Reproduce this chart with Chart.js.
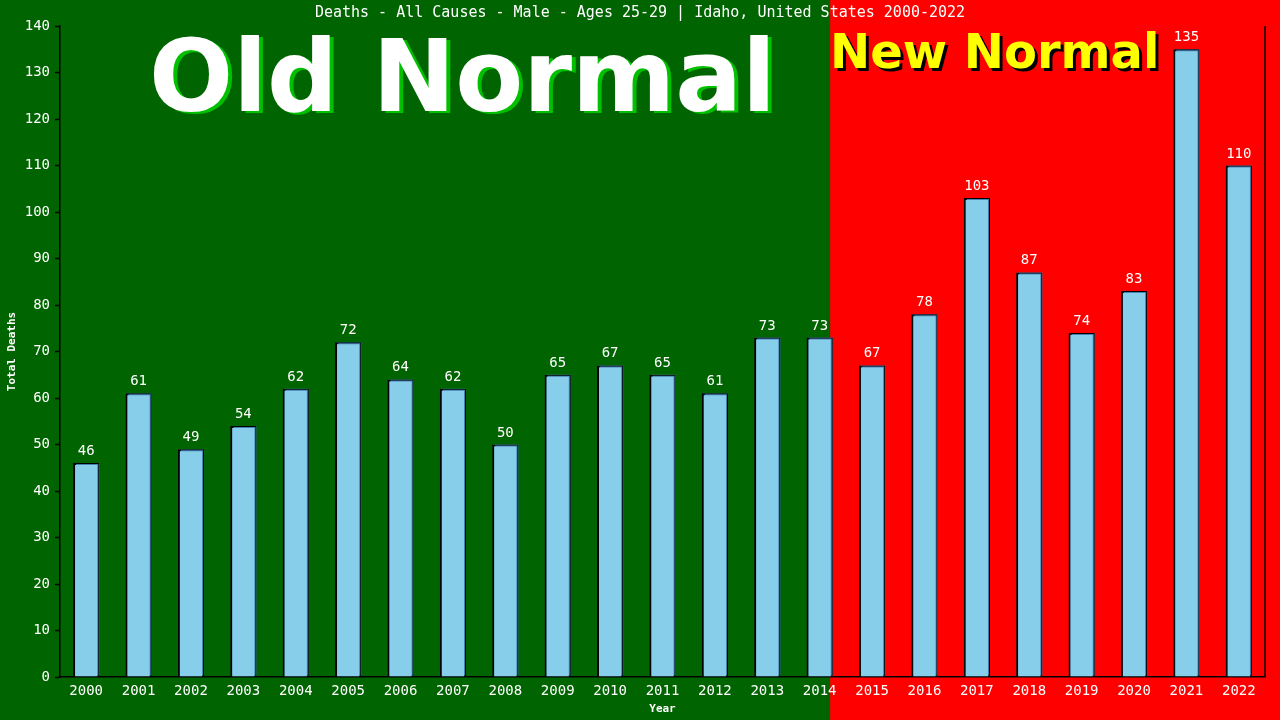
<!DOCTYPE html>
<html lang="en">
<head>
    <meta charset="UTF-8">
    <title>Deaths - All Causes - Male - Ages 25-29 | Idaho</title>
    <script src="https://cdn.jsdelivr.net/npm/chart.js"></script>
    <style>
        html, body { margin: 0; padding: 0; background: #006400; }
        #wrap { width: 1280px; height: 720px; }
    </style>
</head>
<body>
    <div id="wrap">
        <canvas id="myChart"></canvas>
    </div>
    <script>
        const years = ['2000', '2001', '2002', '2003', '2004', '2005', '2006', '2007', '2008', '2009', '2010', '2011',
            '2012', '2013', '2014', '2015', '2016', '2017', '2018', '2019', '2020', '2021', '2022'];
        const deaths = [46, 61, 49, 54, 62, 72, 64, 62, 50, 65, 67, 65, 61, 73, 73, 67, 78, 103, 87, 74, 83, 135, 110];
        const titleText = 'Deaths - All Causes - Male - Ages 25-29 | Idaho, United States 2000-2022';
        const yMin = 0, yMax = 140, yStep = 10;

        const mono = 'DejaVu Sans Mono';
        Chart.defaults.font.family = mono;
        Chart.defaults.color = '#ffffff';

        // green/red background + headline texts
        const backdrop = {
            id: 'backdrop',
            beforeDraw(chart) {
                const { ctx, width, height } = chart;
                const split = chart.scales.x.getPixelForValue(14.2);
                ctx.save();
                ctx.fillStyle = '#006400';
                ctx.fillRect(0, 0, width, height);
                ctx.fillStyle = '#ff0000';
                ctx.fillRect(split, 0, width - split, height);

                ctx.textAlign = 'center';
                ctx.textBaseline = 'middle';
                ctx.font = '15px ' + mono;
                ctx.fillStyle = '#ffffff';
                ctx.fillText(titleText, 640, 13);

                ctx.textAlign = 'left';
                ctx.textBaseline = 'alphabetic';
                ctx.font = 'bold 99px "DejaVu Sans"';
                ctx.fillStyle = '#00c000';
                ctx.fillText('Old Normal', 153, 113);
                ctx.fillStyle = '#ffffff';
                ctx.fillText('Old Normal', 149, 111);

                ctx.font = 'bold 48px "DejaVu Sans"';
                ctx.fillStyle = '#000000';
                ctx.fillText('New Normal', 833, 71);
                ctx.fillStyle = '#ffff00';
                ctx.fillText('New Normal', 830, 68);
                ctx.restore();
            }
        };

        // thin steel-blue edge behind each bar
        const barEdge = {
            id: 'barEdge',
            beforeDatasetDraw(chart) {
                const ctx = chart.ctx;
                ctx.save();
                ctx.shadowColor = '#4682b4';
                ctx.shadowBlur = 0;
                ctx.shadowOffsetX = 1;
                ctx.shadowOffsetY = -1;
            },
            afterDatasetDraw(chart) {
                chart.ctx.restore();
            }
        };

        const valueLabels = {
            id: 'valueLabels',
            afterDatasetsDraw(chart) {
                const { ctx } = chart;
                const meta = chart.getDatasetMeta(0);
                ctx.save();
                ctx.font = '14px ' + mono;
                ctx.fillStyle = '#ffffff';
                ctx.textAlign = 'center';
                ctx.textBaseline = 'alphabetic';
                meta.data.forEach((bar, i) => {
                    ctx.fillText(deaths[i], bar.x, bar.y - 8);
                });
                ctx.restore();
            },
            afterDraw(chart) {
                const { ctx, chartArea } = chart;
                ctx.save();
                ctx.strokeStyle = '#000000';
                ctx.lineWidth = 1.5;
                ctx.beginPath();
                ctx.moveTo(chartArea.right, chartArea.top);
                ctx.lineTo(chartArea.right, chartArea.bottom);
                ctx.stroke();
                ctx.restore();
            }
        };

        new Chart(document.getElementById('myChart'), {
            type: 'bar',
            data: {
                labels: years,
                datasets: [{
                    data: deaths,
                    backgroundColor: '#87ceeb',
                    borderColor: '#000000',
                    borderWidth: 2,
                    categoryPercentage: 1,
                    barPercentage: 0.5
                }]
            },
            options: {
                responsive: true,
                maintainAspectRatio: false,
                animation: false,
                layout: { padding: { top: 26, right: 15, left: 0, bottom: 0 } },
                plugins: {
                    legend: { display: false },
                    title: { display: false },
                    tooltip: { enabled: false }
                },
                scales: {
                    x: {
                        afterFit(scale) { scale.height = 43; },
                        grid: { display: false, tickLength: 0 },
                        border: { color: '#000000', width: 1.5 },
                        ticks: { color: '#ffffff', font: { size: 14 }, padding: 6, maxRotation: 0 },
                        title: {
                            display: true,
                            text: 'Year',
                            color: '#ffffff',
                            font: { size: 11, weight: 'bold' },
                            padding: { top: 0, bottom: 4 }
                        }
                    },
                    y: {
                        min: yMin,
                        max: yMax,
                        afterFit(scale) { scale.width = 60; },
                        grid: { drawOnChartArea: false, color: '#000000', tickLength: 5, tickWidth: 1.5 },
                        border: { color: '#000000', width: 1.5 },
                        ticks: { stepSize: yStep, color: '#ffffff', font: { size: 14 }, padding: 5 },
                        title: {
                            display: true,
                            text: 'Total Deaths',
                            color: '#ffffff',
                            font: { size: 11, weight: 'bold' },
                            padding: { top: 6, bottom: 0 }
                        }
                    }
                }
            },
            plugins: [backdrop, barEdge, valueLabels]
        });
    </script>
</body>
</html>
